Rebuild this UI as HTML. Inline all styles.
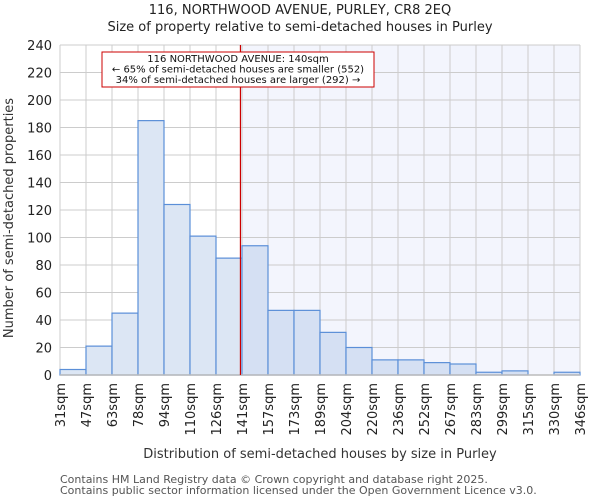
<!DOCTYPE html>
<html><head><meta charset="utf-8"><style>
body{margin:0;background:#fff;font-family:"DejaVu Sans","Liberation Sans",sans-serif;}
svg text{font-family:"DejaVu Sans","Liberation Sans",sans-serif;}
</style></head><body>
<svg id="chart" width="600" height="500" xmlns="http://www.w3.org/2000/svg">
<text x="300" y="14" font-size="13" text-anchor="middle" fill="#222">116, NORTHWOOD AVENUE, PURLEY, CR8 2EQ</text>
<text x="300" y="31" font-size="13" text-anchor="middle" fill="#222">Size of property relative to semi-detached houses in Purley</text>
<g id="plot"></g>
<text x="320" y="458" font-size="13" text-anchor="middle" fill="#333">Distribution of semi-detached houses by size in Purley</text>
<text transform="translate(13,218) rotate(-90)" font-size="13" text-anchor="middle" fill="#333">Number of semi-detached properties</text>
<text x="60" y="483" font-size="11" fill="#555">Contains HM Land Registry data © Crown copyright and database right 2025.</text>
<text x="60" y="494" font-size="11" fill="#555">Contains public sector information licensed under the Open Government Licence v3.0.</text>
</svg>
<script>
const categories=["31sqm","47sqm","63sqm","78sqm","94sqm","110sqm","126sqm","141sqm","157sqm","173sqm","189sqm","204sqm","220sqm","236sqm","252sqm","267sqm","283sqm","299sqm","315sqm","330sqm","346sqm"];
const counts=[4,21,45,185,124,101,85,94,47,47,31,20,11,11,9,8,2,3,0,2];
const yTicks=[0,20,40,60,80,100,120,140,160,180,200,220,240];
const markerBin=6.94;
const NS="http://www.w3.org/2000/svg";
const L=60,R=580,T=45,B=375,yMax=240;
const bw=(R-L)/counts.length;
const xs=i=>L+i*bw;
const ys=v=>B-(v/yMax)*(B-T);
const g=document.getElementById('plot');
function mk(t,a){const e=document.createElementNS(NS,t);for(const k in a)e.setAttribute(k,a[k]);g.appendChild(e);return e;}
const bg=mk('rect',{x:L,y:T,width:R-L,height:B-T,fill:'#fff'});


const mx=xs(markerBin);
const sh=mk('rect',{x:mx,y:T,width:R-mx,height:B-T,fill:'#f3f5fd'});


yTicks.forEach(v=>{
 const l=mk('line',{x1:L,x2:R,y1:ys(v),y2:ys(v),stroke:'#ccc','stroke-width':1});
 
 
 const t=mk('text',{x:L-8,y:ys(v)+5,'font-size':13,'text-anchor':'end',fill:'#222'});
 t.textContent=v;
 
 
});
categories.forEach((c,i)=>{
 const l=mk('line',{x1:xs(i),x2:xs(i),y1:T,y2:B,stroke:'#ccc','stroke-width':1});
 
 
});
counts.forEach((v,i)=>{
 if(v<=0)return;
 const r=mk('rect',{x:xs(i),y:ys(v),width:bw,height:B-ys(v),fill:i>=7?'#d5e0f3':'#dce6f4',stroke:'#5b8fd8','stroke-width':1.2});
 
 
});
const ax=mk('line',{x1:L,x2:R,y1:B,y2:B,stroke:'#bbb','stroke-width':1.5});


categories.forEach((c,i)=>{
 const t=mk('text',{transform:`translate(${xs(i)+5},383) rotate(-90)`,'font-size':13,'text-anchor':'end',fill:'#222'});
 t.textContent=c;
 
 
});
const ml=mk('line',{x1:mx,x2:mx,y1:T,y2:B,stroke:'#cc0000','stroke-width':1.2});


const box=mk('rect',{x:102,y:52,width:272,height:35,fill:'#fff',stroke:'#cc0000','stroke-width':1});


["116 NORTHWOOD AVENUE: 140sqm","← 65% of semi-detached houses are smaller (552)","34% of semi-detached houses are larger (292) →"].forEach((s,k)=>{
 const t=mk('text',{x:238,y:62+k*10.5,'font-size':10,'text-anchor':'middle',fill:'#111'});
 t.textContent=s;
 
 
});
</script>
</body></html>
